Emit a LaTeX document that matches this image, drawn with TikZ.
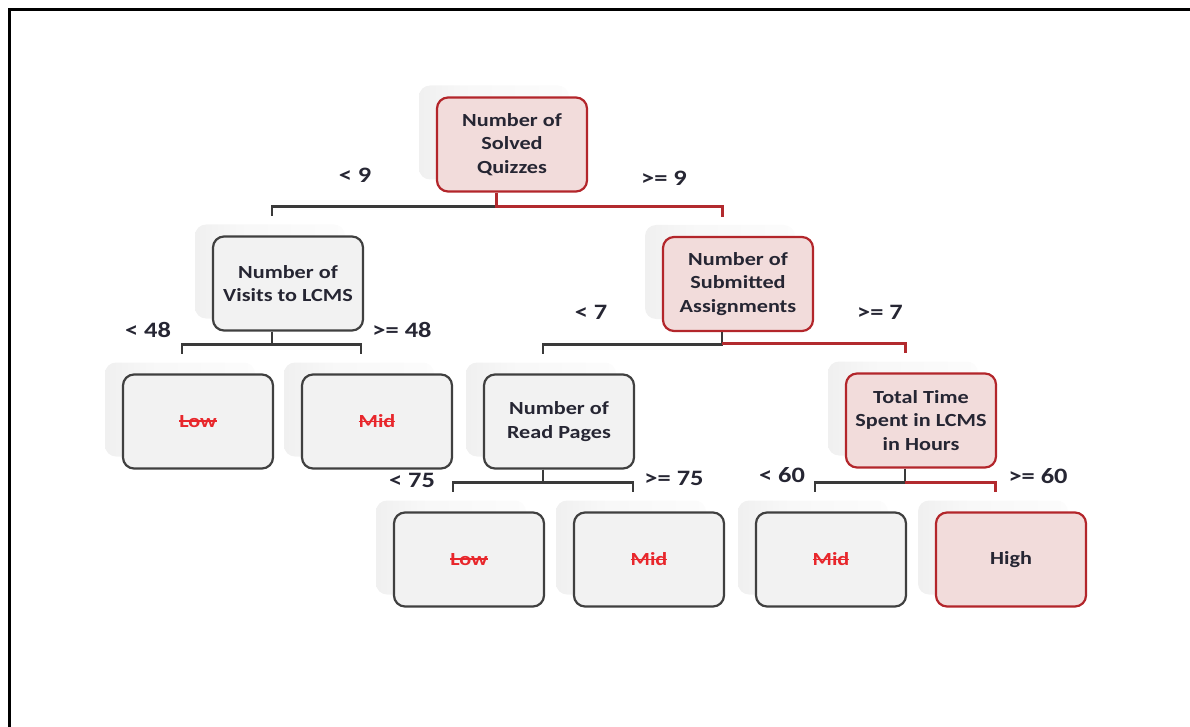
\documentclass[tikz,border=0pt]{standalone}
\usepackage{fontspec}
\setmainfont{Carlito}[FakeStretch=1.2]
\usetikzlibrary{calc,shadows}

\definecolor{boxgray}{HTML}{F2F2F2}
\definecolor{edgegray}{HTML}{404040}
\definecolor{boxpink}{HTML}{F2DCDB}
\definecolor{edgered}{HTML}{B3262B}
\definecolor{txtdark}{HTML}{262633}
\definecolor{txtred}{HTML}{E8272C}
\definecolor{linedark}{HTML}{3A3A3A}
\definecolor{linered}{HTML}{B22A2E}

% soft extruded side behind each card: darkest just where the card begins
\pgfdeclarehorizontalshading{sidefade}{100bp}{color(0bp)=(black!8); color(6bp)=(black!14);
  color(12bp)=(black!30); color(15bp)=(black!8); color(40bp)=(black!3); color(100bp)=(white)}

% red word with a line struck through it
\newlength{\crosswidth}
\newcommand{\crossedout}[1]{\settowidth{\crosswidth}{#1}%
  \textcolor{txtred}{\rlap{#1}\rule[0.3em]{\crosswidth}{1.4pt}}}

\tikzset{
  card/.style={rounded corners=11pt, line width=2.2pt,
    minimum width=150pt, minimum height=94pt, inner sep=2pt,
    align=center, text=txtdark,
    font=\bfseries\fontsize{18.5}{23.5}\selectfont,
    general shadow={shadow xshift=-18pt, shadow yshift=12pt, shading=sidefade}},
  greycard/.style={card, draw=edgegray, fill=boxgray},
  redcard/.style={card, draw=edgered, fill=boxpink},
  cut/.style={font=\bfseries\fontsize{22}{26}\selectfont, text=txtdark},
  darkline/.style={draw=linedark, line width=2.5pt},
  redline/.style={draw=linered, line width=3pt},
}

\begin{document}
\begin{tikzpicture}[x=1pt,y=-1pt]
\useasboundingbox (0,0) rectangle (1190,727);

% frame
\draw[line width=3.4pt] (1190,9.7) -- (9.7,9.7) -- (9.7,727);

% tree nodes
\node[redcard]  (root)   at (512,144.5) {Number of\\Solved\\Quizzes};
\node[greycard] (visits) at (288,283.5) {Number of\\Visits to LCMS};
\node[redcard]  (assign) at (738,284)   {Number of\\Submitted\\Assignments};
\node[greycard] (low1)   at (198,421.5) {\crossedout{Low}};
\node[greycard] (mid1)   at (377,421.5) {\crossedout{Mid}};
\node[greycard] (read)   at (559,421.5) {Number of\\Read Pages};
\node[redcard]  (total)  at (921,420.5) {Total Time\\Spent in LCMS\\in Hours};
\node[greycard] (low2)   at (469,559.5) {\crossedout{Low}};
\node[greycard] (mid2)   at (649,559.5) {\crossedout{Mid}};
\node[greycard] (mid3)   at (831,559.5) {\crossedout{Mid}};
\node[redcard]  (high)   at (1011,559.5) {High};

% split thresholds
\node[cut] (t9a)  at (355,175) {< 9};
\node[cut] (t9b)  at (664,178) {>= 9};
\node[cut] (t48a) at (148,330) {< 48};
\node[cut] (t48b) at (402,330) {>= 48};
\node[cut] (t7a)  at (591,312) {< 7};
\node[cut] (t7b)  at (880,312) {>= 7};
\node[cut] (t75a) at (412,480) {< 75};
\node[cut] (t75b) at (674,478) {>= 75};
\node[cut] (t60a) at (782,475) {< 60};
\node[cut] (t60b) at (1038,476) {>= 60};

% connectors: stem, bar, drop
\draw[darkline] ($(root.south)+(-16,0)$) |- ($(visits.north)+(-16,-29)$) -- ($(visits.north)+(-16,-19)$);
\draw[redline]  ($(root.south)+(-16,0)$) |- ($(assign.north)+(-16,-29)$) -- ($(assign.north)+(-16,-19)$);

\draw[darkline] ($(visits.south)+(-16,0)$) |- ($(low1.north)+(-16,-29)$) -- ($(low1.north)+(-16,-19)$);
\draw[darkline] ($(visits.south)+(-16,0)$) |- ($(mid1.north)+(-16,-29)$) -- ($(mid1.north)+(-16,-19)$);

\coordinate (as) at ($(assign.south)+(-16,0)$);
\coordinate (ab) at ($(total.north)+(-16,-29)$);
\draw[darkline] (as) |- ($(read.north)+(-16,-29)$) -- ($(read.north)+(-16,-19)$);
\draw[redline]  (as |- ab) -- (ab) -- ($(total.north)+(-16,-19)$);

\draw[darkline] ($(read.south)+(-16,0)$) |- ($(low2.north)+(-16,-29)$) -- ($(low2.north)+(-16,-19)$);
\draw[darkline] ($(read.south)+(-16,0)$) |- ($(mid2.north)+(-16,-29)$) -- ($(mid2.north)+(-16,-19)$);

\coordinate (ts) at ($(total.south)+(-16,0)$);
\coordinate (tb) at ($(high.north)+(-16,-29)$);
\draw[darkline] (ts) |- ($(mid3.north)+(-16,-29)$) -- ($(mid3.north)+(-16,-19)$);
\draw[redline]  (ts |- tb) -- (tb) -- ($(high.north)+(-16,-19)$);
\end{tikzpicture}
\end{document}
